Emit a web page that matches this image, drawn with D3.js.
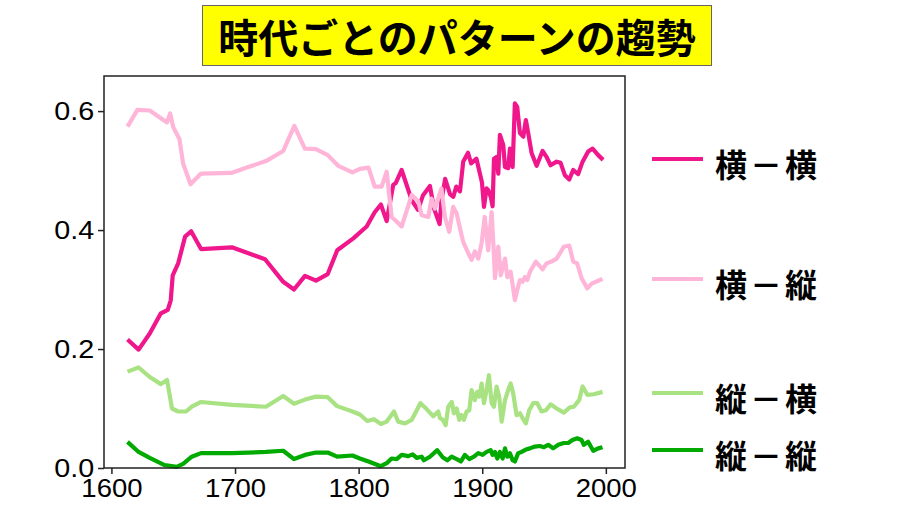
<!DOCTYPE html>
<html><head><meta charset="utf-8">
<script src="https://cdn.jsdelivr.net/npm/d3@7"></script>
<style>
body{margin:0;background:#fff;}
svg{display:block;}
</style></head>
<body>
<script>
// ---- data ----
const title = "時代ごとのパターンの趨勢";
const seriesNames = ["横－横", "横－縦", "縦－横", "縦－縦"];
const seriesColors = ["#F0168C", "#FFB5D8", "#A8E283", "#00AA00"];
const xTicks = [1600, 1700, 1800, 1900, 2000];
const yTicks = [0.0, 0.2, 0.4, 0.6];

const yearsHH = [1613,1622,1631,1640,1645.6,1648,1649.6,1654,1659.6,1664.5,1672.5,1697.4,1724.3,1739,1747.7,1756.6,1765.5,1775,1782.7,1795.7,1806.5,1813,1818,1822.7,1828,1830,1834.8,1843,1848,1852,1857.7,1861,1865.5,1867,1870,1874,1876.6,1879,1882,1884.6,1888.5,1891,1895.3,1899.8,1901.4,1903.5,1905,1907,1908.4,1909.5,1911.6,1913,1914.3,1917,1918.4,1921,1922.4,1924.6,1926.4,1928.3,1930.5,1933.2,1935.3,1937.2,1940,1944,1948.8,1952,1955.3,1960.2,1963.4,1966.9,1970.4,1973.6,1977.6,1981.2,1985.7,1989.3,1993.8,1997.8];
const valsHH = [0.216,0.199,0.226,0.260,0.266,0.282,0.324,0.344,0.389,0.398,0.368,0.371,0.351,0.313,0.300,0.323,0.315,0.326,0.366,0.386,0.406,0.430,0.443,0.415,0.476,0.479,0.501,0.450,0.434,0.458,0.474,0.436,0.410,0.450,0.486,0.460,0.456,0.473,0.465,0.515,0.530,0.512,0.520,0.480,0.439,0.470,0.467,0.455,0.440,0.520,0.523,0.495,0.560,0.543,0.506,0.504,0.537,0.506,0.613,0.607,0.563,0.557,0.585,0.563,0.529,0.508,0.533,0.523,0.509,0.515,0.513,0.492,0.485,0.501,0.494,0.515,0.532,0.537,0.526,0.518];

const yearsHV = [1613,1621,1631,1645,1647.5,1650,1655,1658,1664,1672.5,1697,1709.5,1725,1739,1748,1756.5,1765.5,1775,1783.5,1795,1801,1808,1813,1818.6,1822.7,1826.7,1829.4,1834.8,1843,1848.3,1851,1856.4,1859,1861.7,1867,1869.8,1873.3,1876.5,1879.3,1882,1884.6,1888.7,1891.4,1894,1896.8,1899.5,1902,1904.8,1907.6,1909,1910.3,1913,1915,1918.4,1920.3,1923,1924.6,1926.4,1928.3,1930.5,1932.6,1934.5,1936.4,1938.6,1943.4,1948.8,1952,1956,1960.2,1966,1970.4,1973.6,1976.8,1980.4,1985,1988.5,1993,1997.3];
const valsHV = [0.574,0.602,0.601,0.581,0.596,0.573,0.553,0.512,0.477,0.495,0.496,0.505,0.516,0.533,0.575,0.537,0.536,0.526,0.508,0.497,0.503,0.505,0.473,0.473,0.498,0.422,0.417,0.406,0.459,0.448,0.425,0.422,0.453,0.436,0.470,0.422,0.397,0.439,0.428,0.403,0.380,0.361,0.350,0.364,0.352,0.378,0.422,0.366,0.430,0.378,0.319,0.372,0.324,0.352,0.321,0.330,0.308,0.282,0.299,0.316,0.313,0.321,0.316,0.330,0.347,0.334,0.344,0.347,0.352,0.372,0.374,0.347,0.344,0.319,0.302,0.310,0.314,0.318];

const yearsVH = [1613,1622,1631,1640,1645,1649,1654,1660.4,1665,1672.5,1697.4,1725,1739,1747.7,1756.6,1765.5,1775,1782.6,1795,1801,1807,1812.4,1818,1822.7,1828.6,1832,1837.5,1843,1850,1855,1860.4,1864.4,1865.8,1868,1870.4,1872.5,1875.3,1877.1,1879.3,1881.4,1883.3,1885.2,1887.4,1889.5,1891.4,1894,1895.9,1897.6,1899.5,1901.4,1903.5,1905.4,1907.6,1909.5,1911.6,1913.7,1915.7,1918.4,1921,1923,1925,1927.8,1930.5,1932.6,1935.3,1938,1941.2,1944.5,1948,1951.5,1955.3,1960.2,1966,1970.9,1974.1,1978.4,1981.2,1985,1990.3,1997.3];
const valsVH = [0.162,0.169,0.153,0.141,0.148,0.100,0.095,0.095,0.103,0.111,0.106,0.103,0.121,0.108,0.115,0.120,0.119,0.104,0.095,0.090,0.079,0.082,0.074,0.078,0.095,0.078,0.075,0.081,0.109,0.099,0.087,0.095,0.084,0.081,0.072,0.103,0.111,0.092,0.100,0.081,0.089,0.081,0.095,0.097,0.131,0.114,0.128,0.120,0.142,0.109,0.131,0.156,0.109,0.103,0.137,0.120,0.078,0.114,0.131,0.142,0.126,0.089,0.092,0.084,0.075,0.097,0.109,0.109,0.095,0.097,0.107,0.100,0.093,0.102,0.103,0.114,0.137,0.123,0.124,0.128];

const yearsVV = [1613,1622,1631,1643,1652.8,1658,1665,1672.5,1697.4,1725,1739,1747.7,1756.6,1765.5,1775,1782.6,1795,1801,1808,1818,1822.7,1826.7,1830.8,1834.8,1840.2,1843.7,1847,1851,1852.8,1857.7,1863.6,1868,1871.7,1875.3,1879.3,1882.8,1886,1889.5,1893.3,1896.8,1900.3,1903.5,1906.8,1908.4,1910.3,1912.2,1914.3,1916.5,1918.4,1920.3,1922.4,1924.6,1926.4,1929.1,1931.8,1935.3,1938.6,1942.6,1946.6,1949.9,1953.4,1957.4,1961.5,1966,1969.5,1973,1976.8,1980.4,1982.2,1985.7,1989.8,1993.8,1997.3];
const valsVV = [0.044,0.027,0.017,0.005,0.002,0.007,0.019,0.025,0.025,0.027,0.029,0.015,0.022,0.026,0.026,0.019,0.021,0.016,0.011,0.003,0.008,0.016,0.015,0.022,0.020,0.023,0.017,0.019,0.013,0.019,0.030,0.018,0.013,0.019,0.015,0.011,0.022,0.015,0.019,0.025,0.022,0.027,0.030,0.022,0.027,0.016,0.027,0.016,0.033,0.019,0.025,0.013,0.011,0.025,0.027,0.031,0.033,0.036,0.037,0.035,0.039,0.033,0.039,0.042,0.042,0.047,0.050,0.047,0.039,0.044,0.029,0.033,0.035];

// ---- drawing ----
const W = 900, H = 506;
const svg = d3.select("body").append("svg").attr("width", W).attr("height", H);

const plot = {left: 104, right: 625, top: 76, bottom: 468};
const x = d3.scaleLinear().domain([1594, 2015.5]).range([plot.left, plot.right]);
const y = d3.scaleLinear().domain([0, 0.659]).range([plot.bottom, plot.top]);

// title box
const tg = svg.append("g");
tg.append("rect").attr("x", 202.5).attr("y", 5.5).attr("width", 509).attr("height", 60)
  .attr("fill", "#FFFF00").attr("stroke", "#666").attr("stroke-width", 1);
tg.append("text").attr("x", 457).attr("y", 36).attr("text-anchor", "middle")
  .attr("dominant-baseline", "central")
  .attr("font-family", "'Noto Sans CJK JP', sans-serif").attr("font-weight", 700)
  .attr("font-size", 40).attr("fill", "#000").text(title);

// lines
const series = [
  {years: yearsHH, vals: valsHH},
  {years: yearsHV, vals: valsHV},
  {years: yearsVH, vals: valsVH},
  {years: yearsVV, vals: valsVV}
];
const line = d3.line().x(d => x(d[0])).y(d => y(d[1]));
const drawOrder = [2, 3, 0, 1];
drawOrder.forEach(i => {
  const s = series[i];
  const pts = s.years.map((yr, k) => [yr, s.vals[k]]);
  svg.append("path").datum(pts).attr("d", line)
    .attr("fill", "none").attr("stroke", seriesColors[i])
    .attr("stroke-width", 4.2).attr("stroke-linejoin", "round").attr("stroke-linecap", "butt");
});

// frame
svg.append("rect").attr("x", plot.left).attr("y", plot.top)
  .attr("width", plot.right - plot.left).attr("height", plot.bottom - plot.top)
  .attr("fill", "none").attr("stroke", "#222").attr("stroke-width", 1.5);

// axes
const xAxis = d3.axisBottom(x).tickValues(xTicks).tickFormat(d3.format("d")).tickSize(6).tickPadding(5);
const yAxis = d3.axisLeft(y).tickValues(yTicks).tickFormat(d3.format(".1f")).tickSize(6).tickPadding(4);
const gx = svg.append("g").attr("transform", `translate(0,${plot.bottom})`).call(xAxis);
const gy = svg.append("g").attr("transform", `translate(${plot.left},0)`).call(yAxis);
[gx, gy].forEach(g => {
  g.select(".domain").remove();
  g.selectAll(".tick line").attr("stroke", "#222").attr("stroke-width", 1.5);
  g.selectAll(".tick text").attr("font-family", "'Liberation Sans', Arial, sans-serif")
    .attr("font-size", 25).attr("fill", "#000");
});
gx.selectAll(".tick text").attr("transform", "scale(1.1,1)");
gy.selectAll(".tick text").attr("transform", "scale(1.15,1)").attr("x", -8.5);

// legend
const legendY = [159, 279, 393, 450];
const lg = svg.append("g");
seriesNames.forEach((name, i) => {
  lg.append("line").attr("x1", 652).attr("x2", 703).attr("y1", legendY[i]).attr("y2", legendY[i])
    .attr("stroke", seriesColors[i]).attr("stroke-width", 4.2);
  lg.append("text").attr("x", 715).attr("y", legendY[i] + 4).attr("dominant-baseline", "central")
    .attr("font-family", "'Noto Sans CJK JP', sans-serif").attr("font-weight", 700)
    .attr("font-size", 32).attr("letter-spacing", 3).attr("fill", "#000").text(name);
});
</script>
</body></html>
